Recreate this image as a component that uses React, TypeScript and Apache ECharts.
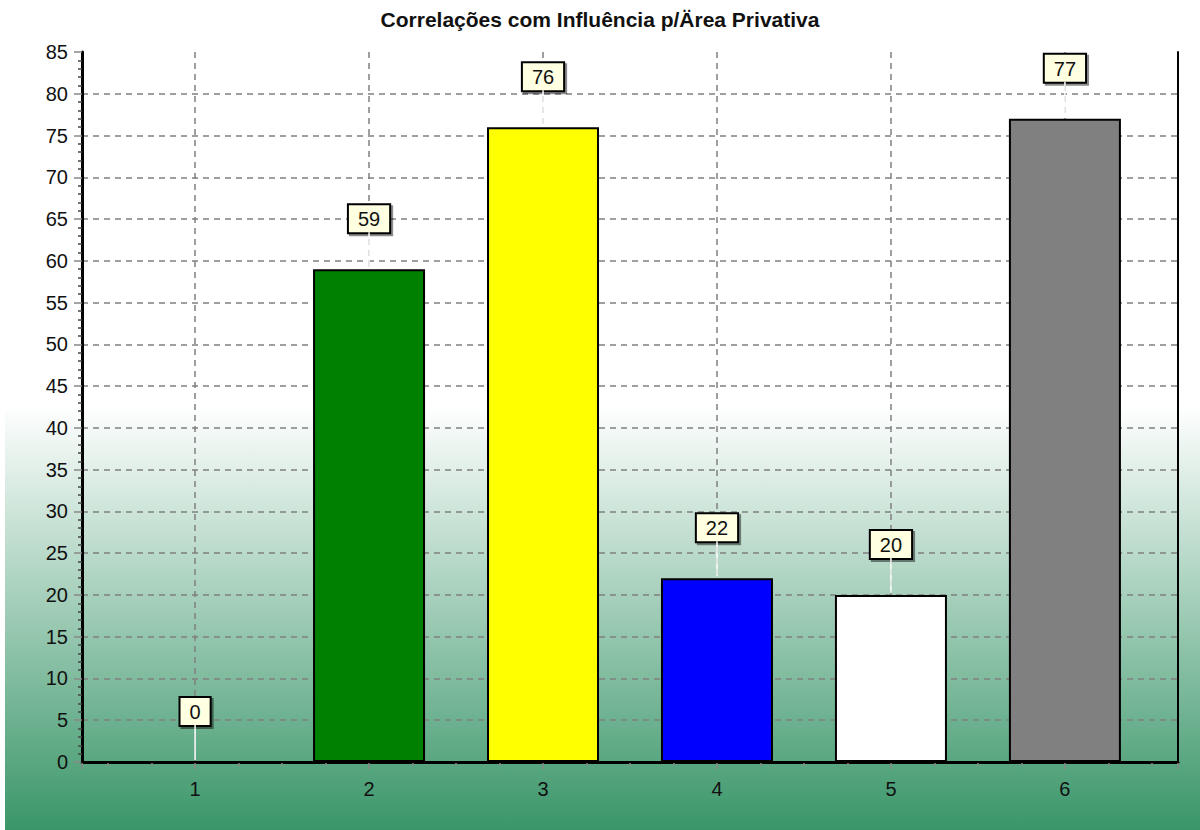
import React, { useEffect, useRef } from "react";
import * as echarts from "echarts";

const titleText = "Correlações com Influência p/Ärea Privativa";
const categories = [1, 2, 3, 4, 5, 6];
const values = [0, 59, 76, 22, 20, 77];
const barColors = ["#008000", "#008000", "#FFFF00", "#0000FF", "#FFFFFF", "#808080"];
const yMin = 0;
const yMax = 85;
const yStep = 5;

const FONT = "'Liberation Sans', Arial, sans-serif";

export default function App() {
  const ref = useRef<HTMLDivElement>(null);
  useEffect(() => {
    document.body.style.margin = "0";
    if (!ref.current) return;
    const chart = echarts.init(ref.current, null, { renderer: "svg" });
    const barData = categories.map((c, i) => ({
      value: [c, values[i]],
      itemStyle: {
        color: barColors[i],
        borderColor: "#000",
        borderWidth: values[i] === 0 ? 0 : 2,
      },
    }));
    const frameAxis = {
      axisLine: { show: true, lineStyle: { color: "#000", width: 2 } },
      axisTick: { show: false },
      axisLabel: { show: false },
      splitLine: { show: false },
    };
    const gridLine = {
      show: true,
      showMinLine: false,
      showMaxLine: false,
      lineStyle: { color: "#808080", type: [6, 5], width: 1.5 },
    };
    chart.setOption({
      animation: false,
      backgroundColor: "#ffffff",
      title: {
        text: titleText,
        left: "center",
        top: 9,
        padding: 0,
        textStyle: { fontFamily: FONT, fontSize: 21, fontWeight: "bold", color: "#111" },
      },
      graphic: [
        {
          type: "rect",
          z: -10,
          silent: true,
          shape: { x: 5, y: 405, width: 1195, height: 425 },
          style: {
            fill: new echarts.graphic.LinearGradient(0, 0, 0, 1, [
              { offset: 0, color: "#ffffff" },
              { offset: 1, color: "#3a9669" },
            ]),
          },
        },
      ],
      grid: {
        left: 82,
        right: 22,
        top: 52,
        bottom: 68,
        show: false,
      },
      xAxis: [
        {
          type: "value",
          min: 0.35,
          max: 6.65,
          splitNumber: 6,
          minInterval: 1,
          maxInterval: 1,
          z: 1,
          axisLine: { show: true, lineStyle: { color: "#000", width: 3 } },
          axisTick: { show: true, length: 7, lineStyle: { color: "#888", width: 1.5 } },
          minorTick: { show: true, splitNumber: 4, length: 4, lineStyle: { color: "#888", width: 1.5 } },
          axisLabel: {
            fontFamily: FONT,
            fontSize: 20,
            color: "#111",
            margin: 17,
            formatter: (v: number) => (Math.abs(v - Math.round(v)) < 1e-6 ? String(Math.round(v)) : ""),
          },
          splitLine: gridLine,
        },
        { type: "value", position: "top", min: 0, max: 1, z: 2, ...frameAxis },
      ],
      yAxis: [
        {
          type: "value",
          min: yMin,
          max: yMax,
          interval: yStep,
          z: 1,
          axisLine: { show: true, lineStyle: { color: "#000", width: 3 } },
          axisTick: { show: true, length: 8, lineStyle: { color: "#888", width: 1.5 } },
          minorTick: { show: true, splitNumber: 5, length: 4, lineStyle: { color: "#444", width: 1.5 } },
          axisLabel: { fontFamily: FONT, fontSize: 20, color: "#111", margin: 14 },
          splitLine: gridLine,
        },
        { type: "value", position: "right", min: 0, max: 1, z: 2, ...frameAxis },
      ],
      series: [
        {
          type: "bar",
          xAxisIndex: 0,
          yAxisIndex: 0,
          data: barData,
          barWidth: 112,
          z: 3,
          label: {
            show: true,
            position: "top",
            distance: 37,
            formatter: (p: any) => String(p.value[1]),
            fontFamily: FONT,
            fontSize: 20,
            color: "#111",
            backgroundColor: "#FFFFE1",
            borderColor: "#000",
            borderWidth: 2,
            padding: [4, 9, 3, 9],
            shadowColor: "rgba(0,0,0,0.45)",
            shadowOffsetX: 2,
            shadowOffsetY: 2,
            shadowBlur: 0,
          },
        },
        {
          type: "custom",
          xAxisIndex: 0,
          yAxisIndex: 0,
          z: 4,
          silent: true,
          data: categories.map((c, i) => [c, values[i]]),
          encode: { x: 0, y: 1 },
          renderItem: (params: any, api: any) => {
            const p = api.coord([api.value(0), api.value(1)]);
            return {
              type: "line",
              shape: { x1: p[0], y1: p[1] - 2, x2: p[0], y2: p[1] - 37 },
              style: { stroke: "#ffffff", lineWidth: 1.5 },
            };
          },
        },
      ],
    });
    return () => chart.dispose();
  }, []);
  return <div ref={ref} style={{ width: 1200, height: 830 }} />;
}
